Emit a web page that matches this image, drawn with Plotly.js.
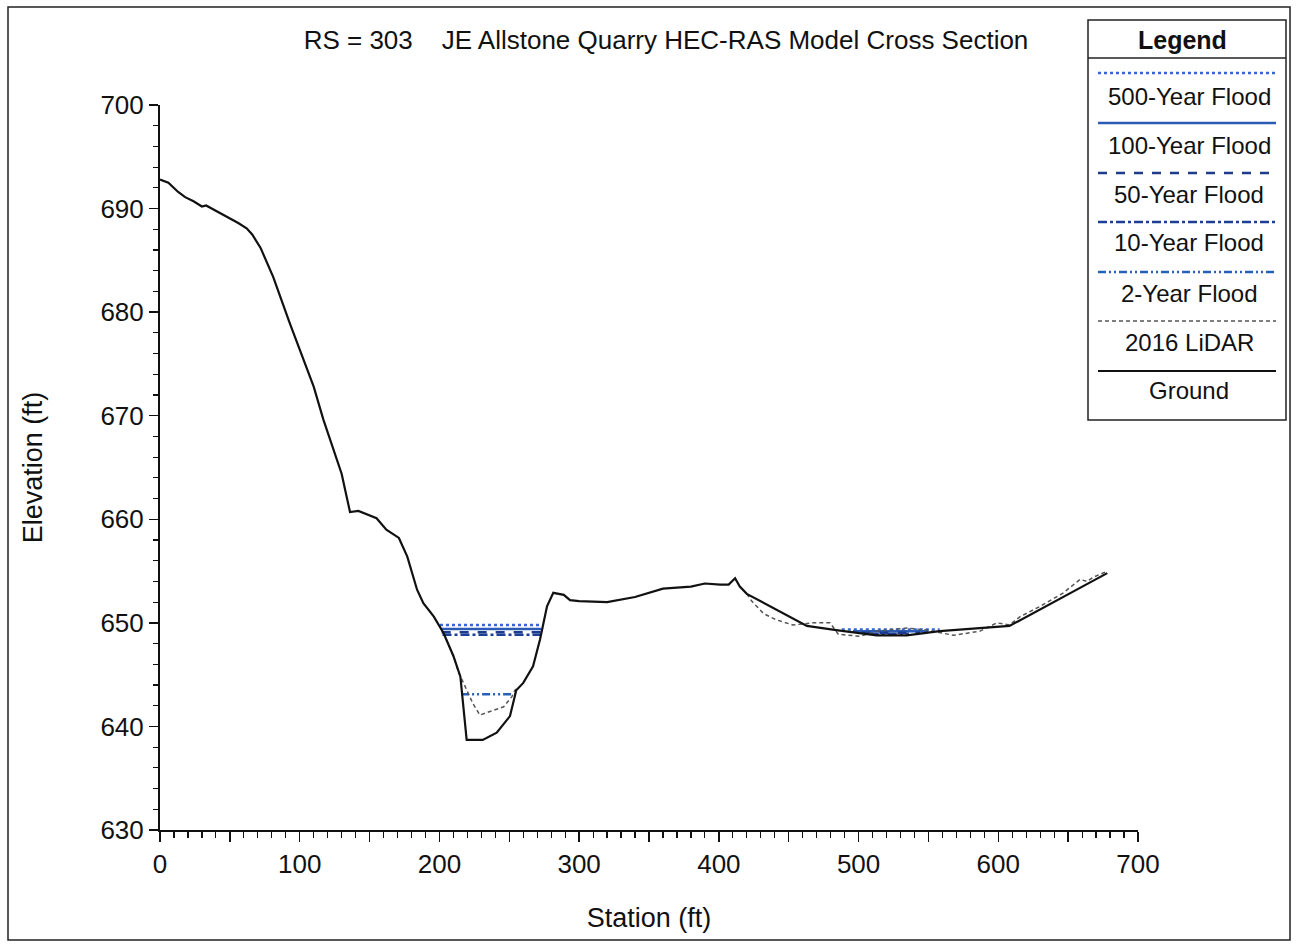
<!DOCTYPE html>
<html><head><meta charset="utf-8">
<script src="https://cdn.plot.ly/plotly-3.0.1.min.js"></script>
<style>html,body{margin:0;padding:0;background:#fff}</style>
</head><body><div id="chart" style="width:1296px;height:951px"></div>
<script>
// Ground profile
const groundStation = [0, 6, 13, 18, 24, 30, 33, 37, 50, 56, 62, 66, 72, 81, 93, 103, 110, 117, 126, 130, 136, 142, 155, 162, 171, 177, 184, 188.5, 196, 203, 210, 215, 219.5, 231, 241, 250.5, 255, 260, 267, 272, 277, 281.5, 289, 293.5, 300, 320, 340, 360, 380, 390, 401, 407, 411.6, 415, 420, 463, 484, 513, 534.5, 558, 608, 678];
const groundElev    = [692.8, 692.5, 691.6, 691.1, 690.7, 690.2, 690.3, 690.0, 689.1, 688.6, 688.1, 687.5, 686.2, 683.4, 678.9, 675.4, 672.8, 669.6, 666.1, 664.4, 660.7, 660.8, 660.1, 659.0, 658.2, 656.4, 653.2, 651.9, 650.6, 649.0, 646.8, 644.8, 638.7, 638.7, 639.4, 641.0, 643.5, 644.2, 645.8, 648.4, 651.6, 652.9, 652.7, 652.2, 652.1, 652.0, 652.5, 653.3, 653.5, 653.8, 653.7, 653.7, 654.3, 653.5, 652.8, 649.7, 649.3, 648.8, 648.8, 649.2, 649.7, 654.8];

// 2016 LiDAR (where it departs from ground)
const lidarStation = [203, 210, 213.5, 218, 224, 229, 236, 246, 252, 254, 256, null, 420, 423.5, 432, 441, 453, 467.6, 479.6, 485.5, 501, 513, 534.5, 549, 568, 587, 599, 608, 615.6, 630, 646.6, 658.6, 663.4, 668, 676.4];
const lidarElev    = [649.0, 646.8, 645.3, 643.9, 642.2, 641.1, 641.4, 641.9, 642.9, 643.5, 643.7, null, 652.8, 652.1, 650.9, 650.3, 649.8, 650.0, 650.0, 648.9, 648.7, 649.2, 649.5, 649.3, 648.8, 649.2, 650.0, 649.8, 650.6, 651.6, 652.9, 654.2, 654.0, 654.4, 654.9];

// Water surfaces (channel segment, gap, right overbank segment)
const wsStation500 = [200.4, 273.2, null, 488, 558];
const wsElev500    = [649.8, 649.8, null, 649.35, 649.35];
const wsStation100 = [201.2, 272.8, null, 496, 550];
const wsElev100    = [649.4, 649.4, null, 649.2, 649.2];
const wsStation50  = [201.6, 272.6, null, 502, 544];
const wsElev50     = [649.1, 649.1, null, 649.05, 649.05];
const wsStation10  = [202.2, 272.3, null, 508, 536];
const wsElev10     = [648.85, 648.85, null, 648.95, 648.95];
const wsStation2   = [215.5, 254.2];
const wsElev2      = [643.1, 643.1];

const legendLabels = ["500-Year Flood", "100-Year Flood", "50-Year Flood", "10-Year Flood", "2-Year Flood", "2016 LiDAR", "Ground"];

// x ticks: marks every 50 ft, labels every 100 ft
const xTickVals  = [0, 50, 100, 150, 200, 250, 300, 350, 400, 450, 500, 550, 600, 650, 700];
const xTickText  = ["0", "", "100", "", "200", "", "300", "", "400", "", "500", "", "600", "", "700"];

const styles = [
  {color: "#3467d6", width: 2.5, dash: "dot"},
  {color: "#2a5cb5", width: 2.5, dash: "solid"},
  {color: "#1d3a8c", width: 2.5, dash: "dash"},
  {color: "#1d3f95", width: 2.5, dash: "dashdot"},
  {color: "#2760b8", width: 2.5, dash: "8px,3px,2px,3px,2px,3px"},
  {color: "#555555", width: 1.5, dash: "4px,3px"},
  {color: "#111111", width: 2.2, dash: "solid"}
];

const series = [
  [wsStation500, wsElev500], [wsStation100, wsElev100], [wsStation50, wsElev50],
  [wsStation10, wsElev10], [wsStation2, wsElev2], [lidarStation, lidarElev], [groundStation, groundElev]
];

const traces = series.map((s, i) => ({
  x: s[0], y: s[1], type: "scatter", mode: "lines", name: legendLabels[i],
  line: styles[i], connectgaps: false, hoverinfo: "x+y+name"
}));

// pixel -> paper helpers (plot area 160..1138 x 105..830)
const L = 160, R = 1138, T = 105, B = 830;
const px = v => (v - L) / (R - L);
const py = v => (B - v) / (B - T);

const shapes = [];
const annotations = [];
// outer frame
shapes.push({type: "rect", xref: "paper", yref: "paper", x0: px(8), x1: px(1290), y0: py(940), y1: py(7), line: {color: "#222", width: 1.5}});
// legend box
shapes.push({type: "rect", xref: "paper", yref: "paper", x0: px(1088), x1: px(1286), y0: py(420), y1: py(20), line: {color: "#222", width: 1.5}, fillcolor: "#fff"});
shapes.push({type: "line", xref: "paper", yref: "paper", x0: px(1088), x1: px(1286), y0: py(58), y1: py(58), line: {color: "#222", width: 1.5}});
annotations.push({xref: "paper", yref: "paper", x: px(1182), y: py(40), text: "<b>Legend</b>", showarrow: false, xanchor: "center", yanchor: "middle", font: {size: 25, color: "#111"}});
const lineY = [73, 123, 173, 222, 272, 321, 371];
const textY = [96, 145, 194, 243, 293, 342, 391];
legendLabels.forEach((lab, i) => {
  shapes.push({type: "line", xref: "paper", yref: "paper", x0: px(1098), x1: px(1276), y0: py(lineY[i]), y1: py(lineY[i]), line: styles[i]});
  annotations.push({xref: "paper", yref: "paper", x: px(1189), y: py(textY[i]), text: lab, showarrow: false, xanchor: "center", yanchor: "middle", font: {size: 24, color: "#111"}});
});

const layout = {
  width: 1296, height: 951,
  margin: {l: L, r: 1296 - R, t: T, b: 951 - B},
  paper_bgcolor: "#fff", plot_bgcolor: "#fff",
  font: {family: "Liberation Sans, Arial, sans-serif", color: "#111"},
  showlegend: false,
  title: {text: "RS = 303\u00a0\u00a0\u00a0\u00a0JE Allstone Quarry HEC-RAS Model Cross Section", x: 666 / 1296, xanchor: "center", y: 1 - 40 / 951, yanchor: "middle", font: {size: 26, color: "#111"}},
  xaxis: {
    range: [0, 700], tickmode: "array", tickvals: xTickVals, ticktext: xTickText,
    ticks: "outside", ticklen: 10, tickwidth: 1.5, tickcolor: "#111",
    showline: true, linecolor: "#111", linewidth: 2, showgrid: false, zeroline: false,
    tickfont: {size: 26, color: "#111"},
    minor: {dtick: 10, tick0: 0, ticks: "outside", ticklen: 6, tickwidth: 1.2, tickcolor: "#111", showgrid: false},
    title: {text: "Station (ft)", font: {size: 27, color: "#111"}, standoff: 30}
  },
  yaxis: {
    range: [630, 700], dtick: 10, tick0: 630, ticks: "outside", ticklen: 9, tickwidth: 1.5, tickcolor: "#111",
    showline: true, linecolor: "#111", linewidth: 2, showgrid: false, zeroline: false,
    tickfont: {size: 26, color: "#111"},
    minor: {dtick: 2, ticks: "outside", ticklen: 5, tickwidth: 1.2, tickcolor: "#111", showgrid: false},
    title: {text: "Elevation (ft)", font: {size: 27, color: "#111"}, standoff: 50}
  },
  shapes: shapes,
  annotations: annotations
};

Plotly.newPlot("chart", traces, layout, {displayModeBar: false, staticPlot: true});
</script>
</body></html>
